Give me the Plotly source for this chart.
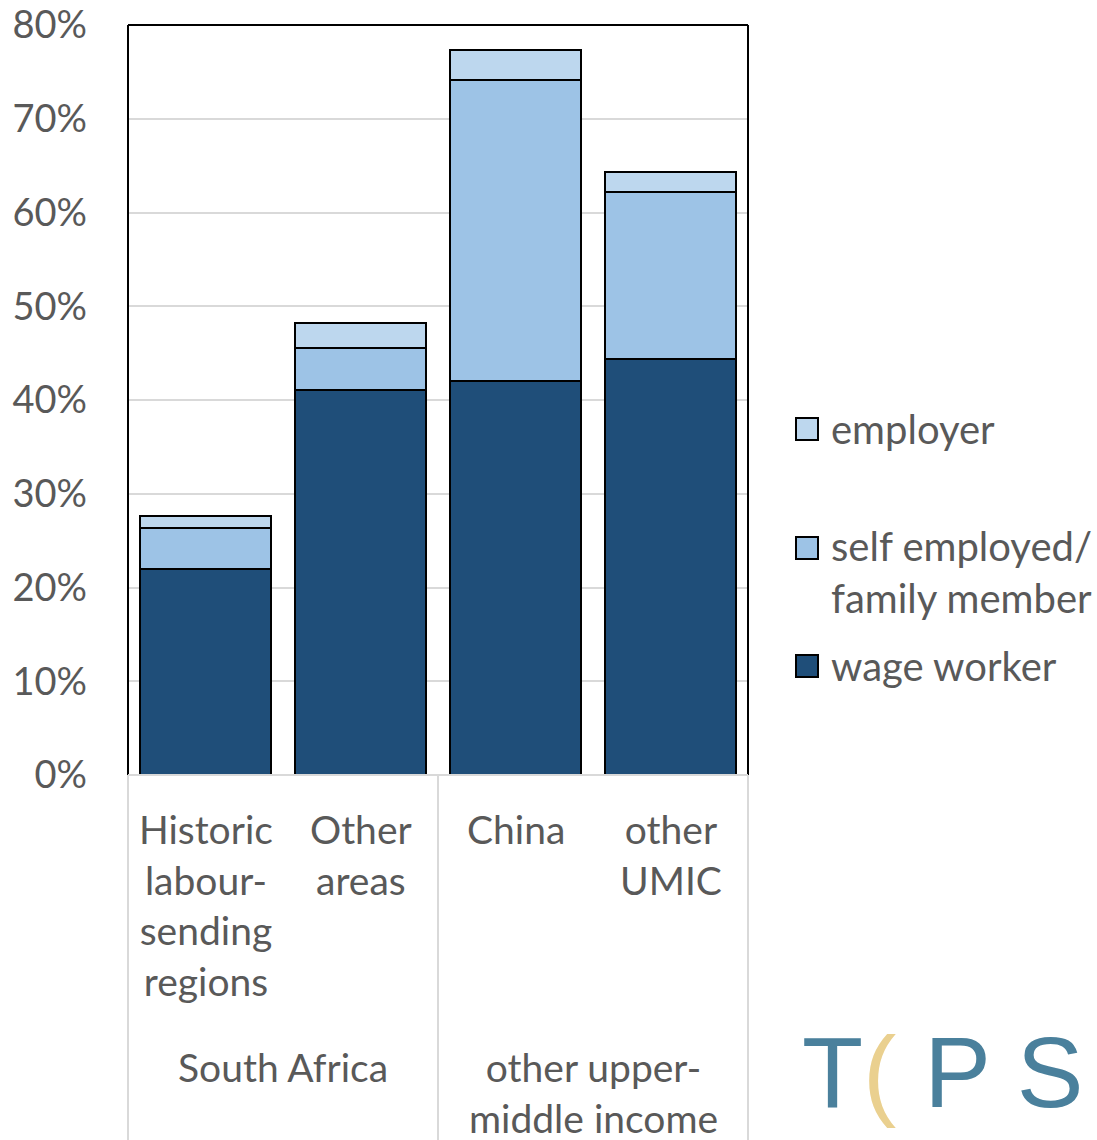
import plotly.graph_objects as go

categories = ["Historic<br>labour-<br>sending<br>regions", "Other<br>areas", "China", "other<br>UMIC"]
cat_ids = ["hist", "other_sa", "china", "umic"]
groups = ["South Africa", "other upper-<br>middle income"]
wage_worker = [22.0, 41.1, 42.0, 44.4]
self_employed = [4.35, 4.45, 32.1, 17.8]
employer = [1.3, 2.65, 3.2, 2.1]
y_ticks = [0, 10, 20, 30, 40, 50, 60, 70, 80]
series_names = ["wage worker", "self employed/<br>family member", "employer"]
colors = ["#1F4E79", "#9DC3E6", "#BDD7EE"]

FONT = "Lato"
TXT = "#595959"

W, H = 1097, 1140
L, R, T, B = 128, 748, 25, 775

def px2x(px):
    return (px - L) / (R - L)

def px2y(py):
    return (B - py) / (B - T)

fig = go.Figure()
for name, vals, col in zip(series_names, [wage_worker, self_employed, employer], colors):
    fig.add_trace(go.Bar(x=cat_ids, y=vals, name=name, marker=dict(color=col, line=dict(color="black", width=2)),
                         width=0.85, showlegend=False))

fig.update_layout(
    barmode="stack",
    width=W, height=H,
    margin=dict(l=L, r=W - R, t=T, b=H - B, pad=0, autoexpand=False),
    paper_bgcolor="white", plot_bgcolor="white",
    font=dict(family=FONT, size=38, color=TXT),
)
fig.update_yaxes(range=[0, 80], tickvals=y_ticks, ticktext=[f"{v}%" for v in y_ticks],
                 showgrid=True, gridcolor="#D9D9D9", gridwidth=2, zeroline=False,
                 showline=False, ticks="", ticklabelstandoff=40, automargin=False,
                 tickfont=dict(family=FONT, size=38, color=TXT))
fig.update_xaxes(categoryorder="array", categoryarray=cat_ids, showticklabels=False,
                 showgrid=False, zeroline=False, showline=False, range=[-0.5, 3.5], automargin=False)

shapes = []
# plot frame: black top/left/right, gray bottom
shapes.append(dict(type="line", xref="paper", yref="paper", x0=0, x1=1, y0=1, y1=1, line=dict(color="black", width=2)))
shapes.append(dict(type="line", xref="paper", yref="paper", x0=0, x1=0, y0=0, y1=1, line=dict(color="black", width=2)))
shapes.append(dict(type="line", xref="paper", yref="paper", x0=1, x1=1, y0=0, y1=1, line=dict(color="black", width=2)))
shapes.append(dict(type="line", xref="paper", yref="paper", x0=0, x1=1, y0=0, y1=0, line=dict(color="#D9D9D9", width=2)))
# category separators below the plot
for px in [L, 438, R]:
    shapes.append(dict(type="line", xref="paper", yref="paper", x0=px2x(px), x1=px2x(px),
                       y0=0, y1=px2y(H), line=dict(color="#D9D9D9", width=2)))

annotations = []
for cid, lab in zip(cat_ids, categories):
    annotations.append(dict(x=cid, xref="x", y=px2y(804), yref="paper", text=lab, showarrow=False,
                            xanchor="center", yanchor="top", align="center",
                            font=dict(family=FONT, size=39, color=TXT)))
for gx, g in zip([283, 593], groups):
    annotations.append(dict(x=px2x(gx), xref="paper", y=px2y(1042), yref="paper", text=g, showarrow=False,
                            xanchor="center", yanchor="top", align="center",
                            font=dict(family=FONT, size=39, color=TXT)))

# manual legend (top to bottom: employer, self employed, wage worker)
legend_items = [(2, 429), (1, 548), (0, 666)]
for idx, cy in legend_items:
    shapes.append(dict(type="rect", xref="paper", yref="paper",
                       x0=px2x(796), x1=px2x(818), y0=px2y(cy + 11), y1=px2y(cy - 11),
                       fillcolor=colors[idx], line=dict(color="black", width=2)))
    annotations.append(dict(x=px2x(829), xref="paper", y=px2y(cy) if idx != 1 else px2y(cy - 28), yref="paper",
                            text=series_names[idx], showarrow=False, xanchor="left",
                            yanchor="middle" if idx != 1 else "top", align="left",
                            font=dict(family=FONT, size=40, color=TXT)))

# TIPS logo approximation
annotations.append(dict(x=px2x(800), xref="paper", y=px2y(1072), yref="paper",
                        text="T<span style='color:#EAD08F'>(</span> P S",
                        showarrow=False, xanchor="left", yanchor="middle",
                        font=dict(family="Liberation Sans", size=100, color="#4A809C")))

fig.update_layout(shapes=shapes, annotations=annotations)
fig.write_html("out.html")
